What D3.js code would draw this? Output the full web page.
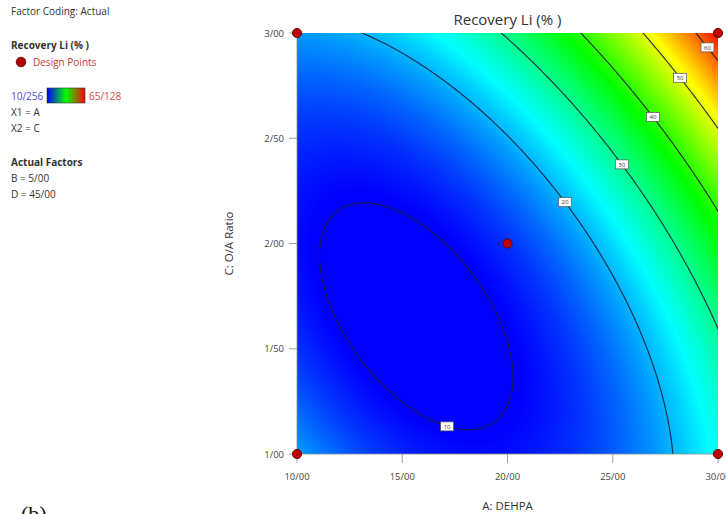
<!DOCTYPE html>
<html>
<head>
<meta charset="utf-8">
<script src="https://cdn.jsdelivr.net/npm/d3@7"></script>
<style>
  html, body { margin: 0; padding: 0; background: #ffffff; }
  svg { display: block; font-family: "Segoe UI", "Open Sans", "Noto Sans", sans-serif; }
</style>
</head>
<body>
<svg id="chart" width="726" height="514"></svg>
<script>
// Quadratic response model for Recovery Li (%), in coded factors
// a = (A - 20) / 10, c = (C - 2) / 1 ; B and D held at their actual values.
const modelTerms = ["Intercept", "A", "C", "AC", "A^2", "C^2"];
const modelCoefs = [12.87, 12.95, 9.85, 10.04, 10.93, 7.95];

// Factor ranges (actual units)
const rangeA = [10, 30];
const rangeC = [1, 3];

// Observed response range shown on the colour bar
const responseRange = [10.256, 65.128];

// Contour levels and where along A each label sits
const contourLevels = [10, 20, 30, 40, 50, 60];
const contourLabelA = [17.13, 22.73, 25.43, 26.91, 28.2, 29.5];
const contourLabelBranch = ["low", "high", "high", "high", "high", "high"];

// Design points (A, C) and replicate counts
const pointA = [10, 10, 30, 30, 20];
const pointC = [1, 3, 1, 3, 2];
const pointReps = [1, 1, 1, 1, 5];

// Axis ticks
const ticksA = [10, 15, 20, 25, 30];
const ticksC = [1, 1.5, 2, 2.5, 3];

// Legend text
const legendTitle = "Recovery Li (% )";
const legendFactorsA = ["X1 = A", "X2 = C"];
const actualFactorNames = ["B", "D"];
const actualFactorValues = [5, 45];

// ---------------------------------------------------------------
// Numbers are written with "/" as the decimal separator
const fmt = v => d3.format(".2f")(v).replace(".", "/");
const fmt3 = v => d3.format(".3f")(v).replace(".", "/");

function response(A, C) {
  const a = (A - 20) / 10, c = (C - 2) / 1;
  const b = modelCoefs;
  return b[0] + b[1] * a + b[2] * c + b[3] * a * c + b[4] * a * a + b[5] * c * c;
}
// Solve the model for C at a given A and level
function solveC(A, level, branch) {
  const a = (A - 20) / 10;
  const b = modelCoefs;
  const qa = b[5];
  const qb = b[2] + b[3] * a;
  const qc = b[0] + b[1] * a + b[4] * a * a - level;
  const disc = Math.sqrt(Math.max(0, qb * qb - 4 * qa * qc));
  const c = branch === "low" ? (-qb - disc) / (2 * qa) : (-qb + disc) / (2 * qa);
  return c + 2;
}

const svg = d3.select("#chart");
const margin = { left: 297, right: 718, top: 33, bottom: 454 };
const x = d3.scaleLinear().domain(rangeA).range([margin.left, margin.right]);
const y = d3.scaleLinear().domain(rangeC).range([margin.bottom, margin.top]);

// Colour ramp: blue - cyan - green - yellow - red over the response range
const rampColors = ["#0000ff", "#00ffff", "#00ff00", "#ffff00", "#ff0000"];
const rampStops = d3.range(rampColors.length).map(i =>
  responseRange[0] + (responseRange[1] - responseRange[0]) * i / (rampColors.length - 1));
const color = d3.scaleLinear().domain(rampStops).range(rampColors).clamp(true);

// ---- Shaded surface (rendered to an image) ----
const W = Math.round(margin.right - margin.left);
const H = Math.round(margin.bottom - margin.top);
const canvas = document.createElement("canvas");
canvas.width = W; canvas.height = H;
const ctx = canvas.getContext("2d");
const img = ctx.createImageData(W, H);
for (let j = 0; j < H; j++) {
  const C = y.invert(margin.top + j + 0.5);
  for (let i = 0; i < W; i++) {
    const A = x.invert(margin.left + i + 0.5);
    const col = d3.rgb(color(response(A, C)));
    const k = (j * W + i) * 4;
    img.data[k] = col.r; img.data[k + 1] = col.g; img.data[k + 2] = col.b; img.data[k + 3] = 255;
  }
}
ctx.putImageData(img, 0, 0);

const defs = svg.append("defs");
defs.append("clipPath").attr("id", "plotClip")
  .append("rect").attr("x", margin.left).attr("y", margin.top).attr("width", W).attr("height", H);

svg.append("image")
  .attr("x", margin.left).attr("y", margin.top)
  .attr("width", W).attr("height", H)
  .attr("preserveAspectRatio", "none")
  .attr("href", canvas.toDataURL());

// ---- Contour lines ----
const gridN = 241;
const gA = [rangeA[0] - 1.2, rangeA[1] + 1.2];
const gC = [rangeC[0] - 0.12, rangeC[1] + 0.12];
const stepA = (gA[1] - gA[0]) / (gridN - 1);
const stepC = (gC[1] - gC[0]) / (gridN - 1);
const values = new Float64Array(gridN * gridN);
for (let j = 0; j < gridN; j++) {
  for (let i = 0; i < gridN; i++) {
    values[j * gridN + i] = response(gA[0] + i * stepA, gC[0] + j * stepC);
  }
}
const contours = d3.contours().size([gridN, gridN]).thresholds(contourLevels)(values);
const gridProjection = d3.geoTransform({
  point: function (px, py) {
    this.stream.point(x(gA[0] + (px - 0.5) * stepA), y(gC[0] + (py - 0.5) * stepC));
  }
});
const path = d3.geoPath(gridProjection);

svg.append("g").attr("clip-path", "url(#plotClip)")
  .selectAll("path").data(contours).join("path")
  .attr("d", path)
  .attr("fill", "none")
  .attr("stroke", "#181830")
  .attr("stroke-width", 1.1)
  .attr("stroke-opacity", 0.9);

// ---- Contour labels ----
const labelG = svg.append("g");
contourLevels.forEach((lv, i) => {
  const A = contourLabelA[i];
  const C = solveC(A, lv, contourLabelBranch[i]);
  const cx = x(A), cy = y(C);
  labelG.append("rect")
    .attr("x", cx - 6.5).attr("y", cy - 4.5)
    .attr("width", 13).attr("height", 9)
    .attr("fill", "#ffffff").attr("stroke", "#555").attr("stroke-width", 0.7);
  labelG.append("text")
    .attr("x", cx).attr("y", cy + 2.2)
    .attr("text-anchor", "middle")
    .attr("font-size", 6)
    .attr("fill", "#333")
    .text(lv);
});

// ---- Axes ----
const axisColor = "#8a8a8a";
const axisG = svg.append("g");
axisG.append("line").attr("x1", margin.left).attr("x2", margin.left)
  .attr("y1", margin.top).attr("y2", margin.bottom)
  .attr("stroke", axisColor).attr("stroke-width", 0.8);
axisG.append("line").attr("x1", margin.left).attr("x2", margin.right)
  .attr("y1", margin.bottom).attr("y2", margin.bottom)
  .attr("stroke", axisColor).attr("stroke-width", 0.8);

ticksC.forEach(t => {
  axisG.append("line").attr("x1", margin.left - 8).attr("x2", margin.left)
    .attr("y1", y(t)).attr("y2", y(t)).attr("stroke", axisColor).attr("stroke-width", 0.8);
  axisG.append("text").attr("x", margin.left - 13).attr("y", y(t) + 3.5)
    .attr("text-anchor", "end").attr("font-size", 9.5).attr("fill", "#444")
    .text(fmt(t));
});
ticksA.forEach(t => {
  axisG.append("line").attr("x1", x(t)).attr("x2", x(t))
    .attr("y1", margin.bottom).attr("y2", margin.bottom + 9)
    .attr("stroke", axisColor).attr("stroke-width", 0.8);
  axisG.append("text").attr("x", x(t)).attr("y", margin.bottom + 26)
    .attr("text-anchor", "middle").attr("font-size", 9.5).attr("fill", "#444")
    .text(fmt(t));
});

svg.append("text").attr("x", (margin.left + margin.right) / 2).attr("y", 510)
  .attr("text-anchor", "middle").attr("font-size", 11.5).attr("fill", "#333")
  .text("A: DEHPA");
svg.append("text")
  .attr("transform", `translate(233, ${(margin.top + margin.bottom) / 2}) rotate(-90)`)
  .attr("text-anchor", "middle").attr("font-size", 11.5).attr("fill", "#333")
  .text("C: O/A Ratio");

svg.append("text").attr("x", (margin.left + margin.right) / 2).attr("y", 25)
  .attr("text-anchor", "middle").attr("font-size", 15).attr("fill", "#333")
  .text(legendTitle);

// ---- Design points ----
const ptG = svg.append("g");
pointA.forEach((A, i) => {
  ptG.append("circle").attr("cx", x(A)).attr("cy", y(pointC[i])).attr("r", 4.6)
    .attr("fill", "#c00000").attr("stroke", "#5a0000").attr("stroke-width", 0.9);
  if (pointReps[i] > 1) {
    ptG.append("text").attr("x", x(A) - 9).attr("y", y(pointC[i]) + 2)
      .attr("text-anchor", "middle").attr("font-size", 5.5).attr("fill", "#10104a")
      .text(pointReps[i]);
  }
});

// ---- Legend ----
const lg = svg.append("g").attr("fill", "#333");
lg.append("text").attr("x", 11).attr("y", 15).attr("font-size", 10).text("Factor Coding: Actual");
lg.append("text").attr("x", 11).attr("y", 48.5).attr("font-size", 10).attr("font-weight", "bold")
  .text(legendTitle);
lg.append("circle").attr("cx", 21).attr("cy", 62).attr("r", 4.8)
  .attr("fill", "#b00000").attr("stroke", "#600").attr("stroke-width", 0.8);
lg.append("text").attr("x", 33).attr("y", 65.5).attr("font-size", 10).attr("fill", "#c83838")
  .text("Design Points");

const grad = defs.append("linearGradient").attr("id", "barGrad");
grad.append("stop").attr("offset", "0%").attr("stop-color", "#0000ff");
grad.append("stop").attr("offset", "50%").attr("stop-color", "#00ff00");
grad.append("stop").attr("offset", "100%").attr("stop-color", "#ff0000");
lg.append("text").attr("x", 11).attr("y", 99.5).attr("font-size", 10).attr("fill", "#4a4ad8")
  .text(fmt3(responseRange[0]));
lg.append("rect").attr("x", 47).attr("y", 88).attr("width", 38).attr("height", 15)
  .attr("fill", "url(#barGrad)").attr("stroke", "#333").attr("stroke-width", 0.6);
lg.append("text").attr("x", 89).attr("y", 99.5).attr("font-size", 10).attr("fill", "#e04848")
  .text(fmt3(responseRange[1]));

legendFactorsA.forEach((t, i) => {
  lg.append("text").attr("x", 11).attr("y", 115.5 + i * 16.3).attr("font-size", 10).text(t);
});
lg.append("text").attr("x", 11).attr("y", 166).attr("font-size", 10).attr("font-weight", "bold")
  .text("Actual Factors");
actualFactorNames.forEach((n, i) => {
  lg.append("text").attr("x", 11).attr("y", 182 + i * 16.3).attr("font-size", 10)
    .text(`${n} = ${fmt(actualFactorValues[i])}`);
});

// Panel tag
svg.append("text").attr("x", 21).attr("y", 521).attr("font-size", 22)
  .attr("font-family", "'Liberation Serif', 'DejaVu Serif', serif").attr("fill", "#111")
  .text("(b)");
</script>
</body>
</html>
